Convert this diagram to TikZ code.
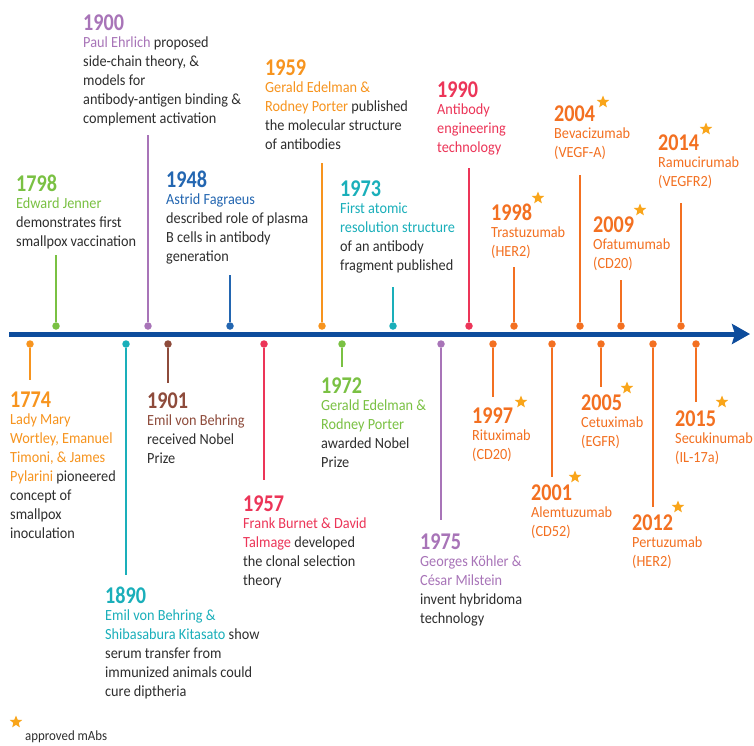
\documentclass[tikz,border=0pt]{standalone}
\usepackage{fontspec}
\setmainfont{Carlito}[FakeStretch=0.92]
\newfontfamily\yearfont{Carlito}[FakeStretch=0.84]
\usetikzlibrary{positioning,arrows.meta,shapes.geometric}

\definecolor{cgreen}{HTML}{7AC143}
\definecolor{cpurple}{HTML}{A874B8}
\definecolor{cblue}{HTML}{2366B1}
\definecolor{camber}{HTML}{F7941E}
\definecolor{cteal}{HTML}{1AAFBA}
\definecolor{cred}{HTML}{EC3558}
\definecolor{cbrown}{HTML}{8E4B3B}
\definecolor{cmab}{HTML}{F37021}
\definecolor{cstar}{HTML}{F9A51A}
\definecolor{cdark}{HTML}{2E2E2E}
\definecolor{caxis}{HTML}{0D4C9C}

\begin{document}
\begin{tikzpicture}[x=1pt, y=-1pt]
	\tikzstyle{year} = [anchor=base west, inner sep=0pt, font=\yearfont\bfseries\fontsize{24}{24}\selectfont];
	\tikzstyle{body} = [align=left, inner sep=0pt, text=cdark, font=\fontsize{15.5}{19}\selectfont, execute at begin node=\strut];
	\tikzstyle{dot} = [circle, inner sep=0pt, minimum size=7.5pt];
	\tikzstyle{stem} = [line width=2.4pt];
	\tikzstyle{mabstar} = [star, star points=5, star point ratio=2.3, fill=cstar, inner sep=0pt, minimum size=13pt];
	\tikzstyle{axis} = [draw=caxis, line width=5pt, -{Stealth[length=18pt, width=20pt, inset=3pt]}];

	\fill[white] (0,0) rectangle (754,745);
	\useasboundingbox (0,0) rectangle (754,745);

	% time axis
	\coordinate (tstart) at (9,334);
	\coordinate (tend) at (750,334);
	\draw[axis] (tstart) -- (tend);

	% dots and stems above the axis
	\foreach \yr/\x/\ty/\clr in {1798/56/255/cgreen, 1900/148/135/cpurple, 1948/230/275/cblue, 1959/322/163/camber, 1973/393/287/cteal, 1990/469/168/cred, 1998/514/267/cmab, 2004/580/175/cmab, 2009/621/280/cmab, 2014/681/203/cmab}{
		\node[dot, fill=\clr] (d\yr) at (\x,326) {};
		\coordinate (s\yr) at (\x,\ty);
		\draw[stem, draw=\clr] (d\yr) -- (s\yr);
	}
	% dots and stems below the axis
	\foreach \yr/\x/\ty/\clr in {1774/30/380/camber, 1890/126/575/cteal, 1901/168/383/cbrown, 1957/264/480/cred, 1972/342/367/cgreen, 1975/441/520/cpurple, 1997/493/397/cmab, 2001/552/477/cmab, 2005/601/387/cmab, 2012/653/507/cmab, 2015/696/402/cmab}{
		\node[dot, fill=\clr] (d\yr) at (\x,344) {};
		\coordinate (s\yr) at (\x,\ty);
		\draw[stem, draw=\clr] (d\yr) -- (s\yr);
	}

	% events above the axis
	\node[year, text=cpurple] at (83,30) (y1900) {1900};
	\node[body, below right=6.7pt and 0pt of y1900.base west] (t1900) {\textcolor{cpurple}{Paul Ehrlich} proposed\\side-chain theory, \&\\models for\\antibody-antigen binding \&\\complement activation};
	\node[year, text=cgreen] at (16,191) (y1798) {1798};
	\node[body, below right=6.7pt and 0pt of y1798.base west] (t1798) {\textcolor{cgreen}{Edward Jenner}\\demonstrates first\\smallpox vaccination};
	\node[year, text=cblue] at (166,187) (y1948) {1948};
	\node[body, below right=6.7pt and 0pt of y1948.base west] (t1948) {\textcolor{cblue}{Astrid Fagraeus}\\described role of plasma\\B cells in antibody\\generation};
	\node[year, text=camber] at (265,75) (y1959) {1959};
	\node[body, below right=6.7pt and 0pt of y1959.base west] (t1959) {\textcolor{camber}{Gerald Edelman \&}\\\textcolor{camber}{Rodney Porter} published\\the molecular structure\\of antibodies};
	\node[year, text=cteal] at (340,196) (y1973) {1973};
	\node[body, below right=6.7pt and 0pt of y1973.base west] (t1973) {\textcolor{cteal}{First atomic}\\\textcolor{cteal}{resolution structure}\\of an antibody\\fragment published};
	\node[year, text=cred] at (437,97) (y1990) {1990};
	\node[body, text=cred, below right=6.7pt and 0pt of y1990.base west] (t1990) {Antibody\\engineering\\technology};
	\node[year, text=cmab] at (491,220) (y1998) {1998};
	\node[body, text=cmab, below right=6.7pt and 0pt of y1998.base west] (t1998) {Trastuzumab\\(HER2)};
	\node[year, text=cmab] at (554,121) (y2004) {2004};
	\node[body, text=cmab, below right=6.7pt and 0pt of y2004.base west] (t2004) {Bevacizumab\\(VEGF-A)};
	\node[year, text=cmab] at (593,232) (y2009) {2009};
	\node[body, text=cmab, below right=6.7pt and 0pt of y2009.base west] (t2009) {Ofatumumab\\(CD20)};
	\node[year, text=cmab] at (658,150) (y2014) {2014};
	\node[body, text=cmab, below right=6.7pt and 0pt of y2014.base west] (t2014) {Ramucirumab\\(VEGFR2)};

	% events below the axis
	\node[year, text=camber] at (10,407) (y1774) {1774};
	\node[body, below right=6.7pt and 0pt of y1774.base west] (t1774) {\textcolor{camber}{Lady Mary}\\\textcolor{camber}{Wortley, Emanuel}\\\textcolor{camber}{Timoni, \& James}\\\textcolor{camber}{Pylarini} pioneered\\concept of\\smallpox\\inoculation};
	\node[year, text=cbrown] at (147,408) (y1901) {1901};
	\node[body, below right=6.7pt and 0pt of y1901.base west] (t1901) {\textcolor{cbrown}{Emil von Behring}\\received Nobel\\Prize};
	\node[year, text=cteal] at (105,603) (y1890) {1890};
	\node[body, below right=6.7pt and 0pt of y1890.base west] (t1890) {\textcolor{cteal}{Emil von Behring \&}\\\textcolor{cteal}{Shibasabura Kitasato} show\\serum transfer from\\immunized animals could\\cure diptheria};
	\node[year, text=cred] at (243,511) (y1957) {1957};
	\node[body, below right=6.7pt and 0pt of y1957.base west] (t1957) {\textcolor{cred}{Frank Burnet \& David}\\\textcolor{cred}{Talmage} developed\\the clonal selection\\theory};
	\node[year, text=cgreen] at (321,393) (y1972) {1972};
	\node[body, below right=6.7pt and 0pt of y1972.base west] (t1972) {\textcolor{cgreen}{Gerald Edelman \&}\\\textcolor{cgreen}{Rodney Porter}\\awarded Nobel\\Prize};
	\node[year, text=cpurple] at (420,549) (y1975) {1975};
	\node[body, below right=6.7pt and 0pt of y1975.base west] (t1975) {\textcolor{cpurple}{Georges Köhler \&}\\\textcolor{cpurple}{César Milstein}\\invent hybridoma\\technology};
	\node[year, text=cmab] at (472,423) (y1997) {1997};
	\node[body, text=cmab, below right=6.7pt and 0pt of y1997.base west] (t1997) {Rituximab\\(CD20)};
	\node[year, text=cmab] at (531,500) (y2001) {2001};
	\node[body, text=cmab, below right=6.7pt and 0pt of y2001.base west] (t2001) {Alemtuzumab\\(CD52)};
	\node[year, text=cmab] at (581,410) (y2005) {2005};
	\node[body, text=cmab, below right=6.7pt and 0pt of y2005.base west] (t2005) {Cetuximab\\(EGFR)};
	\node[year, text=cmab] at (632,530) (y2012) {2012};
	\node[body, text=cmab, below right=6.7pt and 0pt of y2012.base west] (t2012) {Pertuzumab\\(HER2)};
	\node[year, text=cmab] at (675,426) (y2015) {2015};
	\node[body, text=cmab, below right=6.7pt and 0pt of y2015.base west] (t2015) {Secukinumab\\(IL-17a)};

	% stars for approved mAbs
	\node[mabstar] at (538,198) (st1998) {};
	\node[mabstar] at (603,102) (st2004) {};
	\node[mabstar] at (640,210) (st2009) {};
	\node[mabstar] at (706,129) (st2014) {};
	\node[mabstar] at (521,402) (st1997) {};
	\node[mabstar] at (575,477) (st2001) {};
	\node[mabstar] at (627,388) (st2005) {};
	\node[mabstar] at (678,507) (st2012) {};
	\node[mabstar] at (722,402) (st2015) {};

	% legend
	\node[mabstar] at (16,722) (legstar) {};
	\node[anchor=base west, inner sep=0pt, text=cdark, font=\fontsize{14}{15}\selectfont] at (25,740) (legtext) {approved mAbs};
\end{tikzpicture}
\end{document}
